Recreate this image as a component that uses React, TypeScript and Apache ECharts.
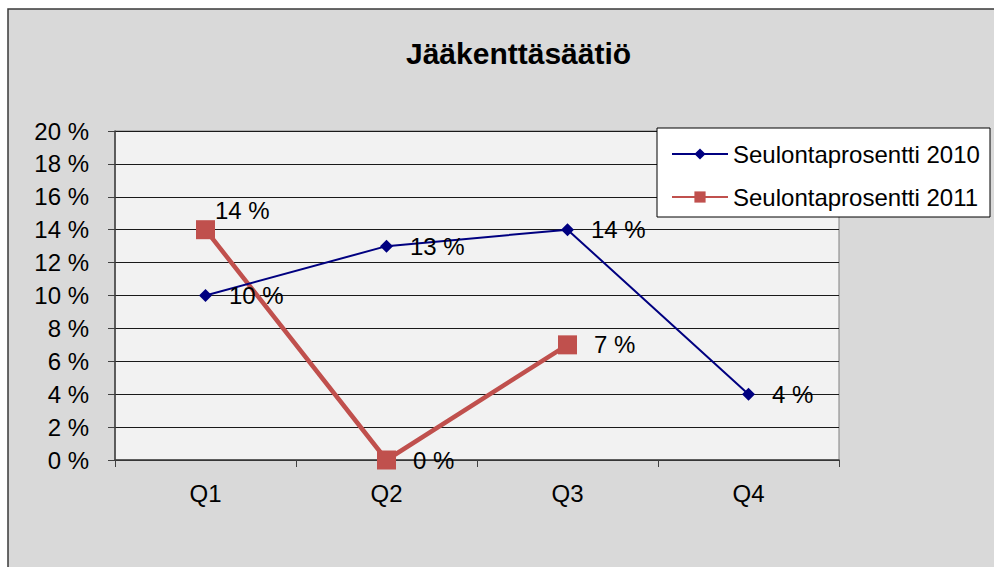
import React, { useEffect, useRef } from "react";
import * as echarts from "echarts";

const categories = ["Q1", "Q2", "Q3", "Q4"];
const values2010 = [10, 13, 14, 4];
const values2011: (number | null)[] = [14, 0, 7, null];
const seriesNames = ["Seulontaprosentti 2010", "Seulontaprosentti 2011"];
const titleText = "Jääkenttäsäätiö";

const FONT = "Liberation Sans, Arial, sans-serif";
const FS = 24;

export default function App() {
  const ref = useRef<HTMLDivElement>(null);
  useEffect(() => {
    document.body.style.margin = "0";
    if (!ref.current) return;
    const chart = echarts.init(ref.current, null, { renderer: "svg" });
    const labelBase = {
      show: true,
      position: "right",
      distance: 17,
      formatter: (p: any) => `${p.value} %`,
      fontSize: FS,
      color: "#000",
      fontFamily: FONT,
    };
    const data2011 = values2011.map((v, i) =>
      i === 0
        ? { value: v, label: { position: "right", distance: 0, offset: [0, -19] } }
        : { value: v === null ? "-" : v }
    );
    chart.setOption({
      animation: false,
      backgroundColor: "#ffffff",
      graphic: [
        {
          type: "rect",
          z: -100,
          shape: { x: 8, y: 9, width: 1000, height: 600 },
          style: { fill: "#d9d9d9", stroke: "#3a3a3a", lineWidth: 1.5 },
        },
        {
          type: "rect",
          z: 3,
          shape: { x: 657, y: 128, width: 333, height: 89 },
          style: { fill: "#ffffff", stroke: "#000000", lineWidth: 1 },
        },
      ],
      title: {
        text: titleText,
        left: 401,
        top: 33,
        textStyle: { fontSize: 30, fontWeight: "bold", color: "#000", fontFamily: FONT },
      },
      legend: {
        orient: "vertical",
        left: 666,
        top: 136,
        itemGap: 17,
        itemWidth: 56,
        itemHeight: 14,
        z: 5,
        textStyle: { fontSize: FS, color: "#000", fontFamily: FONT, lineHeight: 26 },
        data: seriesNames,
      },
      grid: {
        left: 115,
        top: 131,
        width: 724,
        height: 329,
        show: true,
        backgroundColor: "#f2f2f2",
        borderColor: "#808080",
        borderWidth: 1,
      },
      xAxis: {
        type: "category",
        data: categories,
        boundaryGap: true,
        axisLine: { lineStyle: { color: "#404040", width: 1.5 } },
        axisTick: { show: true, length: 7, lineStyle: { color: "#404040" } },
        axisLabel: { fontSize: FS, color: "#000", fontFamily: FONT, margin: 21 },
      },
      yAxis: {
        type: "value",
        min: 0,
        max: 20,
        interval: 2,
        axisLine: { show: true, lineStyle: { color: "#404040", width: 1.5 } },
        axisTick: { show: true, length: 7, lineStyle: { color: "#404040" } },
        axisLabel: {
          fontSize: FS,
          color: "#000",
          fontFamily: FONT,
          margin: 26,
          formatter: "{value} %",
        },
        splitLine: { show: true, lineStyle: { color: "#1a1a1a", width: 1 } },
      },
      series: [
        {
          name: seriesNames[0],
          type: "line",
          data: values2010,
          color: "#000080",
          lineStyle: { width: 2, color: "#000080" },
          symbol: "diamond",
          symbolSize: 13,
          label: labelBase,
          z: 3,
        },
        {
          name: seriesNames[1],
          type: "line",
          data: data2011,
          color: "#c0504d",
          lineStyle: { width: 4.5, color: "#c0504d" },
          symbol: "rect",
          symbolSize: 19,
          label: labelBase,
          z: 2,
        },
      ],
    });
    return () => chart.dispose();
  }, []);
  return <div ref={ref} style={{ width: 994, height: 567 }} />;
}
